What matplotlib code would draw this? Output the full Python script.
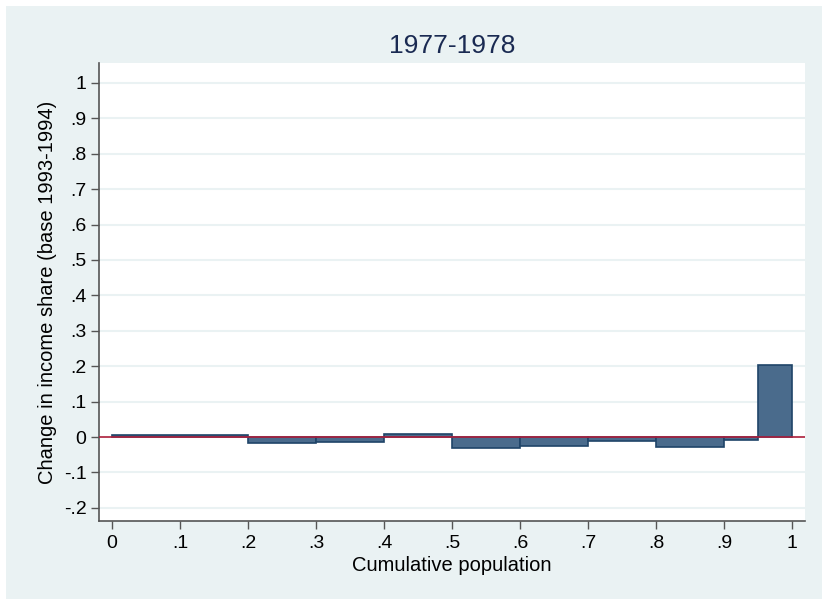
import numpy as np
import matplotlib
matplotlib.use("Agg")
import matplotlib.pyplot as plt
from matplotlib.patches import Rectangle

# bin edges on cumulative population and the change in income share per bin
bin_left = [0.0, 0.2, 0.3, 0.4, 0.5, 0.6, 0.7, 0.8, 0.9, 0.95]
bin_right = [0.2, 0.3, 0.4, 0.5, 0.6, 0.7, 0.8, 0.9, 0.95, 1.0]
share_change = [0.006, -0.016, -0.014, 0.008, -0.032, -0.024, -0.011, -0.027, -0.007, 0.203]

y_ticks = [1.0, 0.9, 0.8, 0.7, 0.6, 0.5, 0.4, 0.3, 0.2, 0.1, 0.0, -0.1, -0.2]
y_tick_labels = ["1", ".9", ".8", ".7", ".6", ".5", ".4", ".3", ".2", ".1", "0", "-.1", "-.2"]
x_ticks = [0.0, 0.1, 0.2, 0.3, 0.4, 0.5, 0.6, 0.7, 0.8, 0.9, 1.0]
x_tick_labels = ["0", ".1", ".2", ".3", ".4", ".5", ".6", ".7", ".8", ".9", "1"]

plt.rcParams['font.family'] = ['Liberation Sans', 'DejaVu Sans']

bg = '#eaf2f3'
fig = plt.figure(figsize=(8.22, 5.99), dpi=100)
fig.patch.set_facecolor('white')
# stata-like light panel behind everything, small white margin top/left
fig.patches.append(Rectangle((6 / 822, 0), 1 - 6 / 822, 1 - 6 / 599,
                             transform=fig.transFigure, facecolor=bg,
                             edgecolor='none', zorder=-10))

ax = fig.add_axes([99 / 822, 1 - 521 / 599, 706 / 822, 458 / 599])
ax.set_facecolor('white')

lefts = np.array(bin_left)
widths = np.array(bin_right) - lefts
ax.bar(lefts, share_change, width=widths, align='edge',
       color='#4a6b8c', edgecolor='#1f4468', linewidth=1.2, zorder=3)
ax.axhline(0, color='#b0203c', linewidth=1.2, zorder=4)

ax.set_xlim(-0.019, 1.019)
ax.set_ylim(-0.237, 1.056)
ax.set_yticks(y_ticks)
ax.set_yticklabels(y_tick_labels)
ax.set_xticks(x_ticks)
ax.set_xticklabels(x_tick_labels)
ax.grid(axis='y', color=bg, linewidth=1.5, zorder=0)

for s in ['top', 'right']:
    ax.spines[s].set_visible(False)
for s in ['left', 'bottom']:
    ax.spines[s].set_color('#555555')
    ax.spines[s].set_linewidth(1.2)
ax.tick_params(axis='both', direction='out', length=6, width=1.0,
               color='#555555', labelsize=14, labelcolor='black')
ax.tick_params(axis='y', labelrotation=0, pad=3)
ax.tick_params(axis='x', pad=4)

ax.set_title('1977-1978', fontsize=19, color='#1a2a52', pad=7)
ax.set_xlabel('Cumulative population', fontsize=14.5, labelpad=3)
ax.set_ylabel('Change in income share (base 1993-1994)', fontsize=14.5, labelpad=5)

fig.savefig('out.png', dpi=100, facecolor=fig.get_facecolor())
